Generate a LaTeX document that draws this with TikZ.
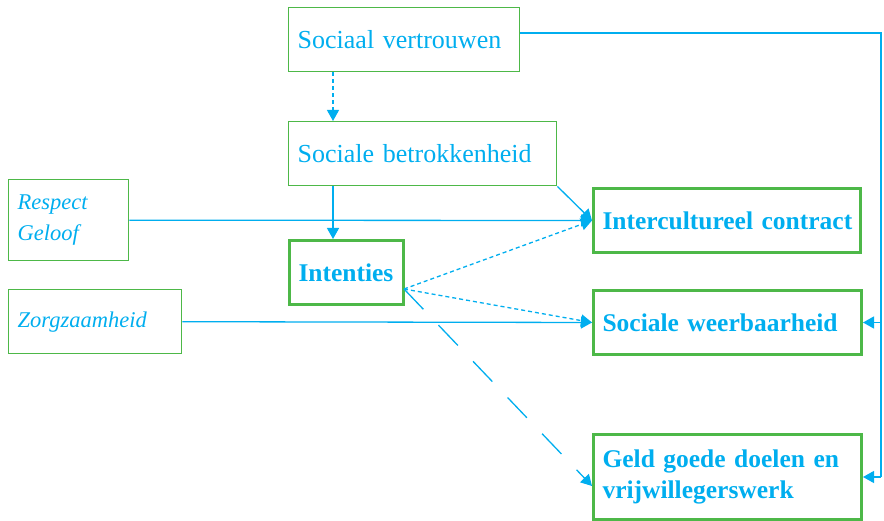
\documentclass[tikz,border=0pt]{standalone}
\usepackage{fontspec}
\setmainfont{Liberation Serif}
\usetikzlibrary{arrows.meta}
\definecolor{cy}{HTML}{00AEEF}
\definecolor{gr}{HTML}{4DB848}
\newcommand{\tightsp}{\spaceskip=0.17em plus 0.05em\relax}
\begin{document}
\begin{tikzpicture}[x=1pt,y=-1pt,
  box/.style={draw=gr,line width=1.4pt,anchor=north west,inner xsep=9pt,inner ysep=0pt,
     text=cy,align=left,font=\fontsize{26}{30}\selectfont\tightsp},
  bbox/.style={box,line width=3pt,font=\fontsize{25.5}{31}\selectfont\bfseries\tightsp},
  ibox/.style={box,font=\fontsize{22.5}{31}\selectfont\itshape\tightsp},
  ln/.style={draw=cy,line width=1.3pt},
  arr/.style={ln,-{Triangle[length=11pt,width=12pt]}},
  sdash/.style={dash pattern=on 4pt off 3pt},
  ldash/.style={dash pattern=on 28pt off 22pt}]
\useasboundingbox (0,0) rectangle (884,521);
\node[box,minimum width=231,minimum height=64,text width=213] (sv) at (288,7) {Sociaal vertrouwen};
\node[box,minimum width=268,minimum height=64,text width=250] (sb) at (288,121) {Sociale betrokkenheid};
\node[ibox,minimum width=120,minimum height=81,text width=102] (rg) at (8,179) {Respect\\Geloof};
\node[ibox,minimum width=173,minimum height=64,text width=155] (zo) at (8,289) {Zorgzaamheid};
\node[bbox,minimum width=114,minimum height=64,text width=96] (in) at (288,239) {Intenties};
\node[bbox,minimum width=267,minimum height=64,text width=249] (ic) at (592,187) {\mbox{Intercultureel contract}};
\node[bbox,minimum width=268,minimum height=64,text width=250] (sw) at (592,289) {Sociale weerbaarheid};
\node[bbox,minimum width=268,minimum height=85,text width=250] (ge) at (592,433) {Geld goede doelen en\\vrijwillegerswerk};
\coordinate (rt) at (881,33);
\coordinate (ip) at (404,289);
\draw[arr,sdash] ([xshift=45]sv.south west) -- ([xshift=45]sb.north west);
\draw[arr] ([xshift=45]sb.south west) -- ([xshift=45]in.north west);
\draw[arr] (sb.south east) -- (ic.west);
\draw[arr] (rg.east) -- (ic.west);
\draw[arr] (zo.east) -- (sw.west);
\draw[arr,sdash] (ip) -- (ic.west);
\draw[arr,sdash] (ip) -- (sw.west);
\draw[arr,ldash] (ip) -- ([yshift=-9]ge.west);
\draw[ln] (sv.east |- rt) -- (rt) -- (rt |- ge.east);
\draw[arr] (rt |- sw.east) -- (sw.east);
\draw[arr] (rt |- ge.east) -- (ge.east);
\end{tikzpicture}
\end{document}
